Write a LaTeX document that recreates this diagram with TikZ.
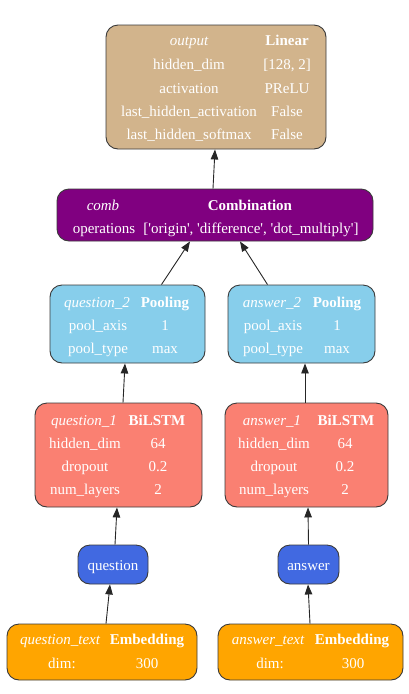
\documentclass[tikz,border=0pt]{standalone}
\usepackage{fontspec}
\setmainfont{Liberation Serif}
\usetikzlibrary{arrows.meta}
\definecolor{tanc}{HTML}{D2B48C}
\definecolor{purplec}{HTML}{800080}
\definecolor{skyc}{HTML}{87CEEB}
\definecolor{salmonc}{HTML}{FA8072}
\definecolor{royalc}{HTML}{4169E1}
\definecolor{orangec}{HTML}{FFA500}
\definecolor{edgec}{HTML}{3A3A3A}
\newcommand{\sq}{\textquotesingle}
\begin{document}
\begin{tikzpicture}[x=1pt,y=-1pt,
  box/.style={draw=edgec,line width=0.9pt,rounded corners=12pt,inner sep=0pt},
  txt/.style={text=white,inner sep=0pt,text height=13pt,text depth=2.5pt,font=\fontsize{15}{18}\selectfont},
  nm/.style={txt,font=\fontsize{15}{18}\selectfont\itshape},
  ty/.style={txt,font=\fontsize{15}{18}\selectfont\bfseries},
  arr/.style={draw=black!85,line width=0.9pt,-{Triangle[length=10pt,width=7.5pt]}}]
\useasboundingbox (0,0) rectangle (408,694);
% boxes
\node[box,fill=tanc,minimum width=220pt,minimum height=124pt] (out) at (216,87) {};
\node[box,fill=purplec,minimum width=316pt,minimum height=52pt] (comb) at (215,215) {};
\node[box,fill=skyc,minimum width=155pt,minimum height=78pt] (q2) at (127.5,324) {};
\node[box,fill=skyc,minimum width=147pt,minimum height=78pt] (a2) at (301.5,324) {};
\node[box,fill=salmonc,minimum width=167pt,minimum height=104pt] (q1) at (118.5,455) {};
\node[box,fill=salmonc,minimum width=163pt,minimum height=104pt] (a1) at (306.5,455) {};
\node[box,fill=royalc,minimum width=70pt,minimum height=39pt] (qin) at (113,564.5) {};
\node[box,fill=royalc,minimum width=61pt,minimum height=39pt] (ain) at (308.5,564.5) {};
\node[box,fill=orangec,minimum width=190pt,minimum height=56pt] (qt) at (102,652) {};
\node[box,fill=orangec,minimum width=185pt,minimum height=56pt] (at) at (310.5,652) {};
% output texts
\node[nm] (o1) at (189,40) {output};
\node[ty] (o2) at (287,40) {Linear};
\node[txt] (o3) at (189,64) {hidden\_dim};
\node[txt] (o4) at (287,64) {[128, 2]};
\node[txt] (o5) at (189,88) {activation};
\node[txt] (o6) at (287,88) {PReLU};
\node[txt] (o7) at (189,111) {last\_hidden\_activation};
\node[txt] (o8) at (287,111) {False};
\node[txt] (o9) at (189,134) {last\_hidden\_softmax};
\node[txt] (o10) at (287,134) {False};
% comb texts
\node[nm] (c1) at (103,205) {comb};
\node[ty] (c2) at (250,205) {Combination};
\node[txt] (c3) at (104,228) {operations};
\node[txt] (c4) at (251,228) {[\sq origin\sq, \sq difference\sq, \sq dot\_multiply\sq]};
% pooling texts
\node[nm] (p1) at (97,302) {question\_2};
\node[ty] (p2) at (165,302) {Pooling};
\node[txt] (p3) at (98,325) {pool\_axis};
\node[txt] (p4) at (165,325) {1};
\node[txt] (p5) at (98,348) {pool\_type};
\node[txt] (p6) at (165,348) {max};
\node[nm] (r1) at (272,302) {answer\_2};
\node[ty] (r2) at (337,302) {Pooling};
\node[txt] (r3) at (273,325) {pool\_axis};
\node[txt] (r4) at (337,325) {1};
\node[txt] (r5) at (273,348) {pool\_type};
\node[txt] (r6) at (337,348) {max};
% bilstm texts
\node[nm] (l1) at (84,420) {question\_1};
\node[ty] (l2) at (157,420) {BiLSTM};
\node[txt] (l3) at (85,443) {hidden\_dim};
\node[txt] (l4) at (158,443) {64};
\node[txt] (l5) at (85,466) {dropout};
\node[txt] (l6) at (158,466) {0.2};
\node[txt] (l7) at (85,489) {num\_layers};
\node[txt] (l8) at (158,489) {2};
\node[nm] (m1) at (272,420) {answer\_1};
\node[ty] (m2) at (346,420) {BiLSTM};
\node[txt] (m3) at (274,443) {hidden\_dim};
\node[txt] (m4) at (345,443) {64};
\node[txt] (m5) at (274,466) {dropout};
\node[txt] (m6) at (345,466) {0.2};
\node[txt] (m7) at (274,489) {num\_layers};
\node[txt] (m8) at (345,489) {2};
% inputs
\node[txt] (qlab) at (113,565) {question};
\node[txt] (alab) at (308.5,565) {answer};
% embeddings
\node[nm] (e1) at (60,639) {question\_text};
\node[ty] (e2) at (147,639) {Embedding};
\node[txt] (e3) at (62,663) {dim:};
\node[txt] (e4) at (147,663) {300};
\node[nm] (f1) at (268,639) {answer\_text};
\node[ty] (f2) at (352,639) {Embedding};
\node[txt] (f3) at (270,663) {dim:};
\node[txt] (f4) at (353,663) {300};
% edges
\draw[arr] ([xshift=4pt]qt.north) -- ([xshift=-3pt]qin.south);
\draw[arr] ([xshift=-0.5pt]at.north) -- ([xshift=-0.5pt]ain.south);
\draw[arr] ([xshift=2pt]qin.north) -- ([xshift=-1.5pt]q1.south);
\draw[arr] (ain.north) -- ([xshift=1.5pt]a1.south);
\draw[arr] ([xshift=4.5pt]q1.north) -- ([xshift=-2.5pt]q2.south);
\draw[arr] ([xshift=-1.5pt]a1.north) -- ([xshift=3.5pt]a2.south);
\draw[arr] ([xshift=34pt]q2.north) -- ([xshift=-25pt]comb.south);
\draw[arr] ([xshift=-34pt]a2.north) -- ([xshift=25pt]comb.south);
\draw[arr] ([xshift=-2pt]comb.north) -- ([xshift=-1pt]out.south);
\end{tikzpicture}
\end{document}
